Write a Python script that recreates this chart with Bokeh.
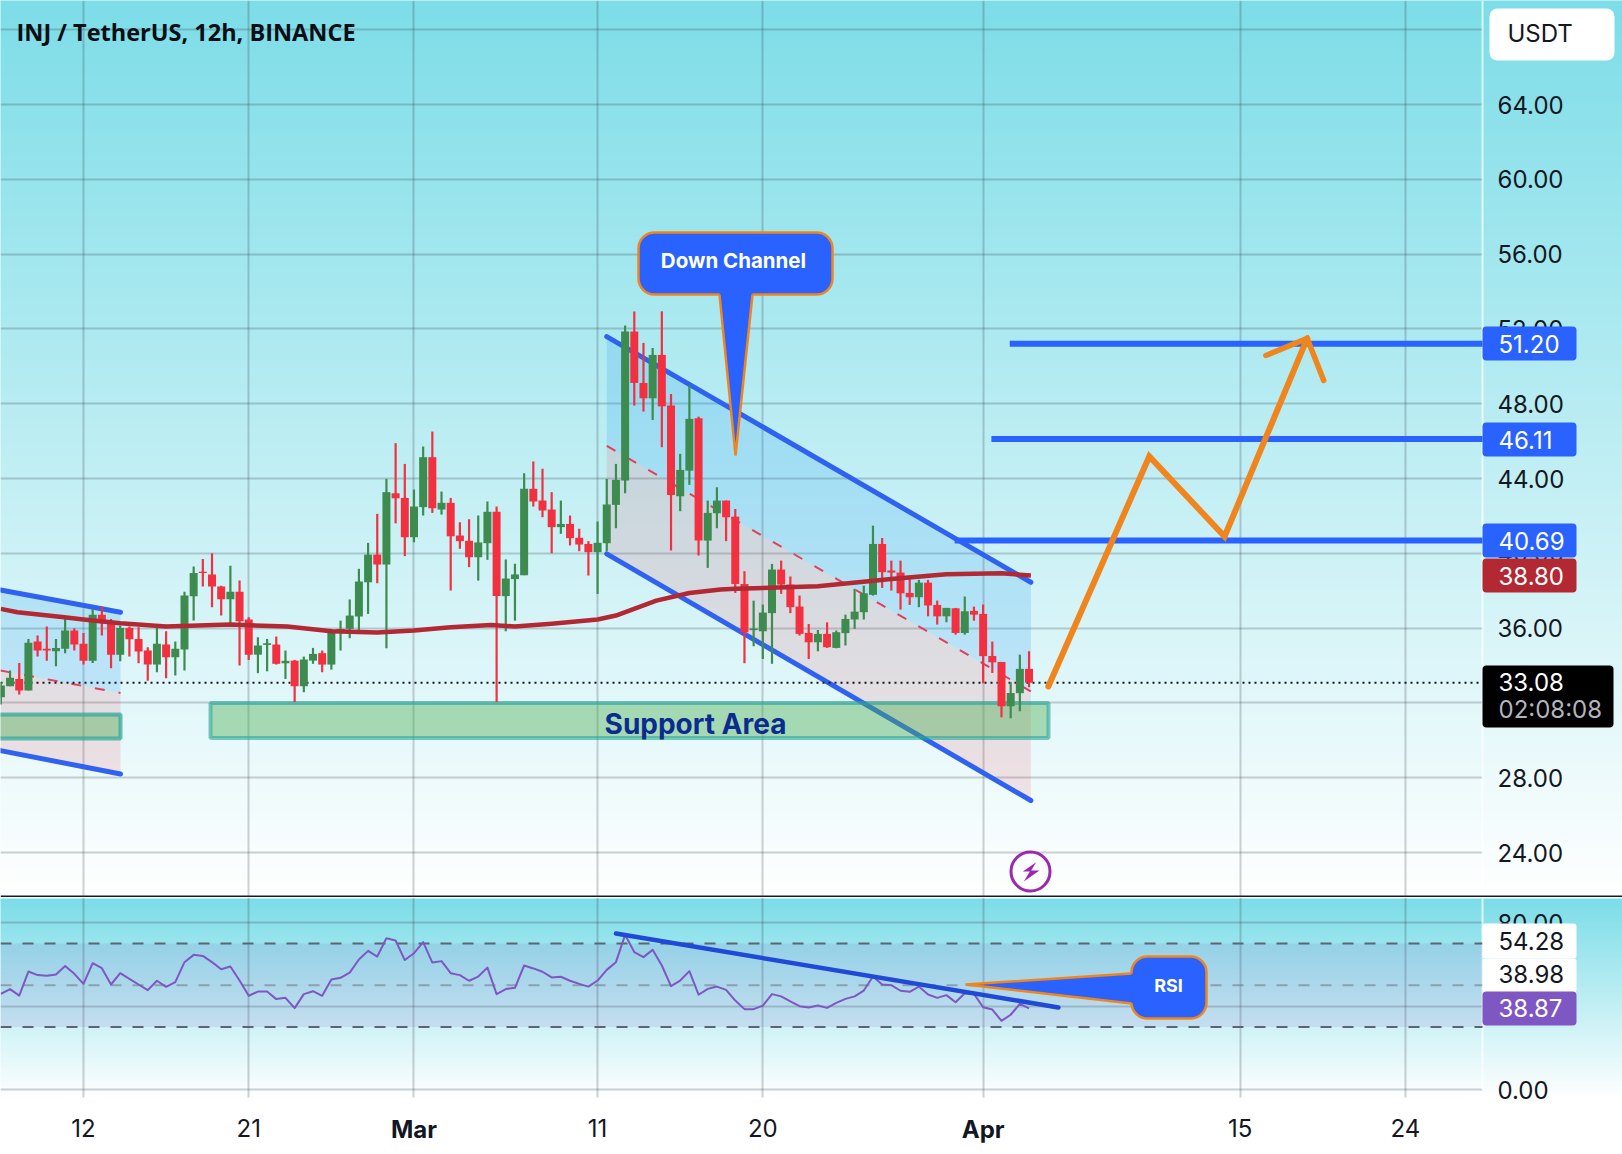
import numpy as np
from bokeh.core.properties import value
from bokeh.embed import file_html
from bokeh.layouts import column
from bokeh.models import CustomJSTickFormatter, FixedTicker, Grid, LinearAxis, Range1d, Span
from bokeh.plotting import figure
from bokeh.resources import INLINE

# ---------- data ----------
first_bar = -9
open_ = [32.30,32.89,33.28,32.66,35.28,34.89,34.76,34.89,35.87,35.16,34.26,36.72,36.37,34.58,36.01,35.42,34.80,34.05,35.12,34.44,
         34.85,37.70,39.02,38.86,38.22,37.54,37.95,36.46,34.58,35.10,35.12,34.12,34.26,32.89,34.26,34.66,34.05,35.83,35.96,36.62,
         38.45,39.93,39.40,43.21,42.96,40.86,42.47,45.14,42.34,42.70,40.95,40.67,39.79,40.54,42.22,37.71,38.62,38.83,43.45,42.82,
         42.34,41.40,41.57,40.83,40.50,40.06,40.54,42.59,43.89,51.86,49.11,48.29,50.61,47.90,43.05,44.42,47.22,40.68,42.14,42.82,
         41.96,38.36,35.89,35.83,36.80,39.13,38.33,37.15,35.74,35.24,35.69,34.94,35.73,36.46,36.85,37.78,40.50,39.08,38.97,37.88,
         37.65,38.43,37.24,36.63,37.06,35.74,36.92,36.76,34.51,34.19,31.82,32.52,33.82]
high = [33.10,33.73,34.14,35.42,35.60,36.08,35.42,36.58,35.99,35.74,37.03,37.17,36.49,36.14,36.08,36.05,34.98,36.01,35.83,35.28,
        37.95,39.29,39.70,40.00,38.27,39.34,38.54,36.58,35.51,35.42,35.55,34.80,34.30,34.48,34.94,34.80,35.96,36.40,37.53,39.17,
        40.56,42.11,43.98,45.89,44.78,43.41,45.71,46.51,43.30,42.96,41.66,41.82,42.02,42.77,42.50,39.67,39.44,44.28,44.91,44.52,
        43.27,42.82,42.02,41.31,40.65,41.70,43.98,44.78,52.18,52.93,51.25,50.98,52.94,48.52,45.32,48.97,47.31,42.82,43.53,42.82,
        42.37,39.04,37.47,37.26,39.43,39.61,38.76,37.74,36.22,35.90,36.31,35.87,36.72,38.10,38.27,41.48,40.82,39.61,39.61,38.81,
        38.58,38.58,37.47,37.08,37.08,37.69,37.15,37.26,35.28,34.19,33.11,34.58,34.76]
low = [31.91,32.89,32.45,32.66,34.48,34.26,33.96,34.66,34.80,34.05,34.14,35.60,33.85,34.23,34.48,34.12,33.19,33.64,33.32,33.46,
       33.73,36.40,38.22,37.12,36.67,36.14,34.00,34.30,33.59,33.69,34.05,33.28,32.04,32.57,34.09,33.64,33.78,34.80,35.46,35.90,
       36.76,38.40,34.92,41.60,39.85,40.59,42.02,42.16,42.07,38.01,40.24,39.26,38.54,39.65,32.04,35.83,36.40,38.83,42.50,41.93,
       40.00,41.04,40.42,40.11,38.81,37.83,40.11,41.34,43.21,47.90,47.58,47.13,45.67,40.15,42.25,43.66,39.88,39.22,41.34,40.65,
       37.88,34.12,35.03,34.35,34.09,37.83,36.80,35.60,34.35,34.76,34.94,34.92,35.07,35.96,36.46,37.74,38.15,38.01,36.99,37.24,
       37.12,36.63,36.19,36.31,35.65,35.65,36.40,33.05,33.60,31.23,31.18,31.55,32.84]
close = [32.93,33.34,32.66,35.21,34.80,34.80,34.94,35.87,35.12,34.26,36.72,36.26,34.58,36.01,35.40,34.75,34.05,35.16,34.44,34.89,
         37.74,38.95,38.95,38.22,37.54,37.95,36.37,34.58,35.07,35.19,34.09,34.25,32.89,34.32,34.62,34.05,35.87,35.96,36.67,38.49,
         39.93,39.40,43.27,42.94,40.86,42.50,45.14,42.41,42.70,40.91,40.65,39.79,40.58,42.22,37.71,38.65,38.87,43.45,42.77,42.29,
         41.40,41.57,40.81,40.47,40.06,40.56,42.61,43.93,51.86,49.11,48.29,50.61,47.86,43.12,44.46,47.19,40.68,42.16,42.82,41.93,
         38.36,35.78,35.98,36.83,39.13,38.33,37.12,35.69,35.24,35.69,34.98,35.78,36.49,36.88,37.86,40.50,38.99,38.97,37.86,37.65,
         38.43,37.21,36.63,37.08,35.74,36.90,36.72,34.50,34.17,31.82,32.53,33.82,33.08]

ma_bars = [-9,-7.2,-2.1,0,4,9,16,22.2,27,32,36,40,44.4,47,51,56,58,62.4,66,69.4,71,80,88,94,100,103.2]
ma_vals = [37.03,36.85,36.58,36.46,36.26,36.08,36.19,36.08,35.83,35.76,35.87,36.05,36.17,36.08,36.23,36.46,36.67,37.47,37.88,38.06,38.10,38.24,38.63,38.88,38.93,38.81]

rsi_vals = [45.8,48.1,45.0,56.5,54.8,54.5,55.1,59.2,55.4,50.6,60.5,58.1,50.3,55.7,53.0,50.3,47.6,52.1,49.2,51.4,
            61.0,64.5,64.0,61.0,57.6,58.9,52.2,44.9,46.9,46.9,43.3,43.9,39.0,45.7,47.1,44.9,52.7,53.5,56.0,62.3,
            66.4,63.7,72.5,71.4,62.0,65.3,70.6,60.8,61.5,55.7,54.8,52.1,54.1,58.4,45.7,48.1,48.7,59.4,58.0,56.4,
            53.7,54.0,52.1,50.6,49.3,52.2,57.3,61.0,74.1,65.8,63.4,66.9,59.4,49.5,52.2,56.7,45.4,48.2,49.3,47.7,
            42.6,38.5,38.5,40.2,45.7,44.6,42.2,39.9,39.3,40.2,39.1,41.5,43.4,44.6,47.4,54.1,50.3,50.0,47.3,46.8,
            49.3,45.5,43.9,45.2,41.8,46.1,45.8,39.4,38.3,32.9,35.8,41.0,38.87]

# channels: bar, upper, middle, lower
chan_bars = [57, 103.2]
chan_up = [51.59, 38.45]
chan_mid = [45.75, 32.62]
chan_lo = [39.97, 26.78]
old_bars = [-9.04, 4.03]
old_up = [38.04, 36.85]
old_mid = [33.73, 32.53]
old_lo = [29.45, 28.20]

targets = [51.20, 46.11, 40.69]
target_start = [100.9, 98.9, 94.9]
path_bars = [105.1, 116.1, 124.3, 133.3]
path_vals = [32.88, 45.18, 40.90, 51.49]
arrow_bars = [128.8, 133.3, 135.1]
arrow_vals = [50.58, 51.49, 49.24]
last_price = 33.08
ma_last = 38.80

price_ticks = [24, 28, 32, 36, 40, 44, 48, 52, 56, 60, 64, 68]
rsi_ticks = [0, 40, 80]
date_ticks = [0, 18, 56, 74, 126, 144]
date_labels = ["12", "21", "11", "20", "15", "24"]
month_ticks = [36, 98]
month_labels = ["Mar", "Apr"]

# ---------- pane geometry ----------
W, H1, H2 = 1622, 897, 257
bar0_px, bar_px = 83.0, 9.18
p64_py, p_px = 104.0, 18.7
r0_py, r_px = 1089.0, 2.0875
X = lambda px: (px - bar0_px) / bar_px
Y = lambda py: 64 - (py - p64_py) / p_px
R = lambda py: (r0_py - py) / r_px
AXIS_X = 1482
GRID = "#2a2e39"
GRID_ALPHA = 0.22
UI = "Inter"
INK = "#131722"
BLUE = "#2962ff"
ORANGE = "#f0851e"
GREEN, RED = "#3d8b4f", "#f23040"
bars = np.arange(first_bar, first_bar + len(close))
o, h, l, c = map(np.array, (open_, high, low, close))
up = c >= o


def gradient(fig, y_top, y_bot):
    n = 500
    t = np.linspace(0, 1, n)[:, None]  # row 0 is the bottom of the pane (white), the last row its top
    r = 255 - (255 - 124) * t
    g = 255 - (255 - 221) * t
    b = 255 - (255 - 232) * t
    img = (255 << 24) | (b.astype(np.uint32) << 16) | (g.astype(np.uint32) << 8) | r.astype(np.uint32)
    fig.image_rgba(image=[img.astype(np.uint32)], x=X(-6), y=y_bot, dw=X(W + 6) - X(-6), dh=y_top - y_bot, level="image")


def make_fig(height, y0, y1):
    f = figure(width=W, height=height, x_range=Range1d(X(0), X(W)), y_range=Range1d(y0, y1),
               output_backend="svg", toolbar_location=None, x_axis_location=None, y_axis_location=None,
               min_border=0, min_border_left=0, min_border_right=0, min_border_top=0, min_border_bottom=0,
               outline_line_color=None, background_fill_color="white", border_fill_color="white")
    f.grid.visible = False
    return f


def text(fig, x, y, s, color="white", size="24px", align="left", style="normal", font=UI):
    fig.text([x], [y], text=[s], text_color=color, text_font=value(font), text_font_size=size,
             text_align=align, text_baseline="middle", text_font_style=style, level="overlay")


def box(fig, px0, px1, ytop, ybot, color, radius=4, line=None, lw=0, alpha=1.0):
    fig.quad(left=[X(px0)], right=[X(px1)], top=[ytop], bottom=[ybot], fill_color=color, fill_alpha=alpha,
             line_color=line, line_width=lw, border_radius=radius, level="overlay")


# ---------- main pane ----------
p1 = make_fig(H1, Y(H1), Y(0))
gradient(p1, Y(-6), Y(896))
p1.add_layout(Grid(dimension=1, ticker=FixedTicker(ticks=price_ticks), grid_line_color=GRID, grid_line_alpha=GRID_ALPHA,
                   grid_line_width=2, cross_bounds=(X(0), X(AXIS_X))))
p1.add_layout(Grid(dimension=0, ticker=FixedTicker(ticks=date_ticks + month_ticks), grid_line_color=GRID,
                   grid_line_alpha=GRID_ALPHA, grid_line_width=2))
p1.add_layout(Span(location=X(AXIS_X), dimension="height", line_color="white", line_alpha=0.7, line_width=2, level="underlay"))
ax = LinearAxis(ticker=FixedTicker(ticks=price_ticks), fixed_location=X(AXIS_X), major_label_standoff=9,
                axis_line_color=None, major_tick_line_color=None, minor_tick_line_color=None,
                major_label_text_font=UI, major_label_text_font_size="24px", major_label_text_color=INK,
                formatter=CustomJSTickFormatter(code="return tick.toFixed(2)"))
p1.add_layout(ax, "right")

# channels
p1.varea(chan_bars, chan_up, chan_mid, fill_color="#2196f3", fill_alpha=0.18)
p1.varea(chan_bars, chan_mid, chan_lo, fill_color="#f23645", fill_alpha=0.13)
p1.varea(old_bars, old_up, old_mid, fill_color="#2196f3", fill_alpha=0.18)
p1.varea(old_bars, old_mid, old_lo, fill_color="#f23645", fill_alpha=0.13)
for xs, ys in ((chan_bars, chan_mid), (old_bars, old_mid)):
    p1.line(xs, ys, line_color="#e2405a", line_width=2, line_dash="10 14")
for xs, ys in ((chan_bars, chan_up), (chan_bars, chan_lo), (old_bars, old_up), (old_bars, old_lo)):
    p1.line(xs, ys, line_color="#2f62f0", line_width=5, line_cap="round")

# support boxes
p1.quad(left=[X(210)], right=[X(1048)], top=[32.0], bottom=[30.12], fill_color="#4caf50", fill_alpha=0.42,
        line_color="#26a69a", line_alpha=0.6, line_width=4)
p1.quad(left=[X(-20)], right=[X(120)], top=[31.38], bottom=[30.1], fill_color="#4caf50", fill_alpha=0.42,
        line_color="#26a69a", line_alpha=0.7, line_width=4)

# horizontal targets and price line
p1.segment(target_start, targets, [X(AXIS_X)] * 3, targets, line_color=BLUE, line_width=6)
p1.line([X(0), X(1478)], [last_price, last_price], line_color=INK, line_width=2, line_dash="2 4")

# candles
p1.segment(bars, h, bars, l, line_color=[GREEN if u else RED for u in up], line_width=2.2)
p1.vbar(bars, 0.87, np.minimum(o, c), np.maximum(o, c), fill_color=[GREEN if u else RED for u in up], line_color=None)
p1.line(ma_bars, ma_vals, line_color="#b22833", line_width=4.5, line_join="round")

# projected path
p1.line(path_bars, path_vals, line_color=ORANGE, line_width=6, line_cap="round", line_join="miter")
p1.line(arrow_bars, arrow_vals, line_color=ORANGE, line_width=5.5, line_cap="round", line_join="miter")

# texts on chart
text(p1, X(16), Y(31), "INJ / TetherUS, 12h, BINANCE", color="#0b0e14", size="23.5px", style="bold", font="Open Sans")
text(p1, X(695), Y(723), "Support Area", color="#0b2c8f", size="28px", align="center", style="bold", font="Inter")

# callout
box(p1, 638, 832, Y(232), Y(294), BLUE, radius=16, line=ORANGE, lw=2.5)
p1.patch([X(719), X(752), X(735)], [Y(292), Y(292), Y(455)], fill_color=BLUE, line_color=None, level="overlay")
p1.line([X(719), X(735), X(752)], [Y(294), Y(455), Y(294)], line_color=ORANGE, line_width=2.5, level="overlay")
text(p1, X(733), Y(260), "Down Channel", size="20.5px", align="center", style="bold", font="Inter")

# flash icon
p1.scatter([X(1030)], [Y(871)], size=39, marker="circle", fill_color="white", fill_alpha=0.6, line_color="#9c27b0", line_width=3)
p1.patch([X(990 + v / 3) for v in (137, 97, 118, 100, 147, 122)],
         [Y(840 + v / 3) for v in (65, 93, 93, 123, 90, 90)], fill_color="#9c27b0", line_color=None)

# price flags
box(p1, 1489, 1614, Y(8), Y(60), "white", radius=8)
text(p1, X(1507), Y(33), "USDT", color=INK)
for val, top, col in ((51.20, 326, BLUE), (46.11, 422, BLUE), (40.69, 523, BLUE), (ma_last, 558, "#b22833")):
    box(p1, AXIS_X, 1576, Y(top), Y(top + 34), col, radius=4)
    text(p1, X(1498), Y(top + 17), f"{val:.2f}")
box(p1, AXIS_X, 1613, Y(665), Y(727), "black", radius=4)
text(p1, X(1498), Y(681), f"{last_price:.2f}")
text(p1, X(1498), Y(709), "02:08:08", color="#b2b5be")
p1.add_layout(Span(location=Y(896), dimension="width", line_color="#131a2a", line_width=2, level="overlay"))

# ---------- RSI pane ----------
p2 = make_fig(H2, R(1154), R(897))
gradient(p2, R(898), R(1097))
p2.add_layout(Grid(dimension=1, ticker=FixedTicker(ticks=rsi_ticks), grid_line_color=GRID, grid_line_alpha=GRID_ALPHA,
                   grid_line_width=2, cross_bounds=(X(0), X(AXIS_X))))
p2.add_layout(Grid(dimension=0, ticker=FixedTicker(ticks=date_ticks + month_ticks), grid_line_color=GRID,
                   grid_line_alpha=GRID_ALPHA, grid_line_width=2, cross_bounds=(R(1097), R(897))))
p2.segment([X(AXIS_X)], [R(898)], [X(AXIS_X)], [R(1089)], line_color="white", line_alpha=0.7, line_width=2)

ax2 = LinearAxis(ticker=FixedTicker(ticks=rsi_ticks), fixed_location=X(AXIS_X), major_label_standoff=9,
                 axis_line_color=None, major_tick_line_color=None, minor_tick_line_color=None,
                 major_label_text_font=UI, major_label_text_font_size="24px", major_label_text_color=INK,
                 formatter=CustomJSTickFormatter(code="return tick.toFixed(2)"))
p2.add_layout(ax2, "right")
for ticks, labels, style, standoff in ((date_ticks, date_labels, "normal", 15), (month_ticks, month_labels, "bold", 11)):
    xa = LinearAxis(ticker=FixedTicker(ticks=ticks), fixed_location=R(1097), major_label_standoff=standoff,
                    major_label_overrides=dict(zip(ticks, labels)), axis_line_color=None, major_tick_line_color=None,
                    minor_tick_line_color=None, major_label_text_font=UI, major_label_text_font_size="24px",
                    major_label_text_color=INK, major_label_text_font_style=style)
    p2.add_layout(xa, "below")

p2.quad(left=[X(0)], right=[X(AXIS_X)], top=[70], bottom=[30], fill_color="#7e57c2", fill_alpha=0.13, line_color=None)
p2.segment([X(0)] * 2, [70, 30], [X(AXIS_X)] * 2, [70, 30], line_color="#5d6472", line_width=2, line_dash="11 11")
p2.segment([X(0)], [50], [X(AXIS_X)], [50], line_color="#787b86", line_alpha=0.6, line_width=2, line_dash="11 11")
p2.line(bars, rsi_vals, line_color="#7e57c2", line_width=2, line_join="round")
p2.line([58, 106.2], [74.7, 39.3], line_color="#1f49d6", line_width=4.5, line_cap="round")

box(p2, 1131, 1206, R(956), R(1018), BLUE, radius=16, line=ORANGE, lw=2.5)
p2.patch([X(1135), X(965), X(1135)], [R(973), R(984), R(1003)], fill_color=BLUE, line_color=None, level="overlay")
p2.line([X(1131), X(965), X(1131)], [R(973), R(984), R(1003)], line_color=ORANGE, line_width=2.5, level="overlay")
text(p2, X(1168), R(985), "RSI", size="18px", align="center", style="bold", font="Inter")

box(p2, AXIS_X, 1576, R(923), R(958), "white", radius=3)
text(p2, X(1498), R(940), "54.28", color=INK)
box(p2, AXIS_X, 1576, R(958), R(992), "white", radius=3)
text(p2, X(1498), R(973), "38.98", color=INK)
box(p2, AXIS_X, 1576, R(991), R(1025), "#7e57c2", radius=4)
text(p2, X(1498), R(1007), "38.87")

page = column(p1, p2, spacing=0)
open("out.html", "w").write(file_html(page, INLINE))
